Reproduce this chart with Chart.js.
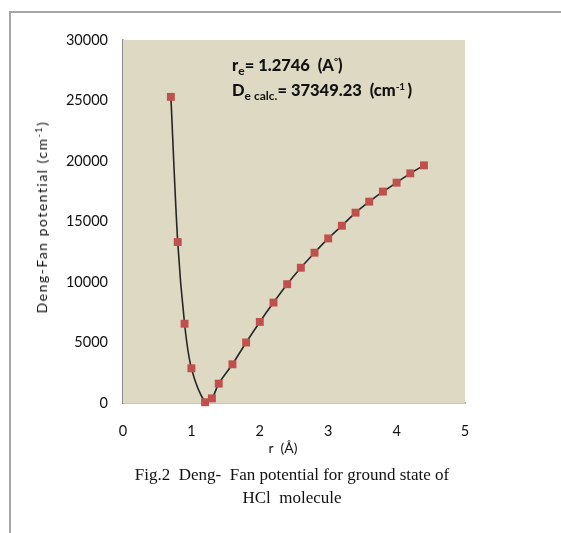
<!DOCTYPE html>
<html>
<head>
<meta charset="utf-8">
<script src="https://cdn.jsdelivr.net/npm/chart.js@4.4.1/dist/chart.umd.min.js"></script>
<style>
  html, body { margin: 0; padding: 0; background: #ffffff; }
  #wrap { position: relative; width: 561px; height: 533px; overflow: hidden; }
  #c { position: absolute; left: 0; top: 0; }
  .frameTop { position: absolute; left: 10px; top: 11px; width: 551px; height: 2px; background: #a6a6a6; }
  .frameLeft { position: absolute; left: 9px; top: 11px; width: 2px; height: 522px; background: #a6a6a6; }
  .ann { position: absolute; left: 232px; font-family: Lato, "Open Sans", sans-serif; font-weight: 900; font-size: 16.5px; color: #111; white-space: pre; line-height: 1; }
  .ann sub { font-size: 12px; vertical-align: -4px; line-height: 0; font-weight: bold; }
  .ann sup { font-size: 10px; vertical-align: 6px; line-height: 0; font-weight: bold; }
  .ytitle { position: absolute; left: 42px; top: 217px; transform: translate(-50%, -50%) rotate(-90deg); font-family: Lato, "Open Sans", sans-serif; font-size: 14px; letter-spacing: 1.5px; color: #111; white-space: pre; line-height: 1; }
  .ytitle sup { font-size: 9px; vertical-align: 5px; line-height: 0; }
  .xtitle { position: absolute; left: 283px; top: 448px; transform: translate(-50%, -50%); font-family: Lato, "Open Sans", sans-serif; font-size: 14px; color: #111; white-space: pre; line-height: 1; }
  .cap { position: absolute; left: 292px; transform: translate(-50%, -50%); font-family: "Liberation Serif", "DejaVu Serif", serif; font-size: 17px; color: #111; white-space: pre; line-height: 1; }
</style>
</head>
<body>
<div id="wrap">
  <canvas id="c" width="561" height="533"></canvas>
  <div class="frameTop"></div>
  <div class="frameLeft"></div>
  <div class="ann" style="top:57px;">r<sub>e</sub>= 1.2746  (A<sup>°</sup>)</div>
  <div class="ann" style="top:82px;">D<sub>e calc.</sub>= 37349.23  (cm<sup>-1 </sup>)</div>
  <div class="ytitle">Deng-Fan potential (cm<sup>-1</sup>)</div>
  <div class="xtitle">r  (Å)</div>
  <div class="cap" style="top:474px;">Fig.2  Deng-  Fan potential for ground state of</div>
  <div class="cap" style="top:497px;">HCl  molecule</div>
</div>
<script>
// Data
const rValues = [0.7, 0.8, 0.9, 1.0, 1.2, 1.3, 1.4, 1.6, 1.8, 2.0, 2.2, 2.4, 2.6, 2.8, 3.0, 3.2, 3.4, 3.6, 3.8, 4.0, 4.2, 4.4];
const potentialValues = [25300, 13300, 6550, 2870, 60, 380, 1600, 3200, 5000, 6700, 8300, 9820, 11180, 12420, 13600, 14650, 15730, 16640, 17470, 18210, 18980, 19640];
const xTickLabels = [0, 1, 2, 3, 4, 5];
const yTickLabels = [0, 5000, 10000, 15000, 20000, 25000, 30000];

const points = rValues.map((r, i) => ({ x: r, y: potentialValues[i] }));

const plotBg = {
  id: 'plotBg',
  beforeDatasetsDraw(chart) {
    const { ctx, chartArea: a } = chart;
    ctx.save();
    ctx.fillStyle = '#ddd9c3';
    ctx.fillRect(a.left, a.top, a.right - a.left, a.bottom - a.top);
    ctx.restore();
  }
};

const tickFont = { family: 'Lato, "Open Sans", sans-serif', size: 14.5 };

new Chart(document.getElementById('c'), {
  type: 'scatter',
  data: {
    datasets: [{
      data: points,
      showLine: true,
      tension: 0.3,
      borderColor: '#262626',
      borderWidth: 1.6,
      pointStyle: 'rect',
      pointRadius: 5.6,
      pointBackgroundColor: '#c0504d',
      pointBorderColor: '#c0504d',
      pointBorderWidth: 0,
      clip: false
    }]
  },
  options: {
    responsive: false,
    animation: false,
    devicePixelRatio: 1,
    layout: { padding: { left: 0, right: 96, top: 40, bottom: 0 } },
    plugins: { legend: { display: false }, tooltip: { enabled: false } },
    scales: {
      x: {
        type: 'linear', min: 0, max: 5,
        afterBuildTicks(s) { s.ticks = xTickLabels.map(v => ({ value: v })); },
        afterFit(s) { s.height = 130; },
        ticks: { font: tickFont, color: '#111', padding: 20 },
        grid: { display: false, drawTicks: false },
        border: { display: true, color: '#8c8c8c', width: 1.5 }
      },
      y: {
        type: 'linear', min: 0, max: 30000,
        afterBuildTicks(s) { s.ticks = yTickLabels.map(v => ({ value: v })); },
        afterFit(s) { s.width = 123; },
        ticks: { font: tickFont, color: '#111', padding: 15, callback: v => String(v) },
        grid: { display: false, drawTicks: false },
        border: { display: true, color: '#8c8c8c', width: 1.5 }
      }
    }
  },
  plugins: [plotBg]
});
</script>
</body>
</html>
